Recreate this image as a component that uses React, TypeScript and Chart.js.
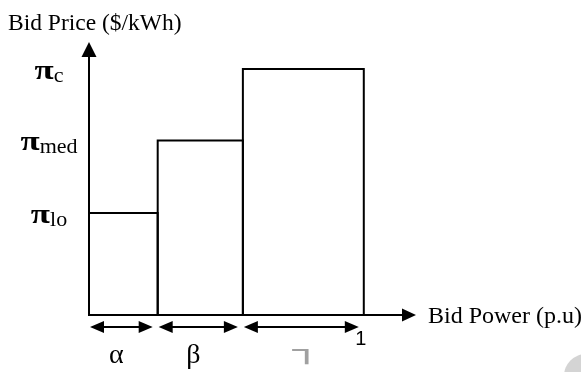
import React, { useEffect, useRef } from "react";
import { Chart, registerables } from "chart.js";

Chart.register(...registerables);

// Step boundaries of the bid curve (p.u. of bid power)
const boundaries = [0, 0.25, 0.56, 1];
// Bid price level of each step (relative to pi_c)
const prices = [0.415, 0.71, 1.0];
// Price level labels (pi + subscript)
const priceSymbol = "π";
const priceSubscripts = ["lo", "med", "c"];
// Symbols under each segment
const segmentSymbols = ["α", "β", "┐"];
const endTickLabel = "1";
const xAxisTitle = "Bid Power (p.u)";
const yAxisTitle = "Bid Price ($/kWh)";
const xMax = 1.19;
const yMax = 1.11;

const SERIF = "'Liberation Serif', 'Times New Roman', serif";

const overlay = {
  id: "overlay",
  afterDatasetsDraw(chart: any) {
    const { ctx, chartArea, scales } = chart;
    const { left, right, top, bottom } = chartArea;
    const xs = scales.x;
    const ys = scales.y;
    ctx.save();
    ctx.strokeStyle = "#000";
    ctx.fillStyle = "#000";
    ctx.lineWidth = 2;
    ctx.lineCap = "butt";

    const tri = (pts: number[][]) => {
      ctx.beginPath();
      ctx.moveTo(pts[0][0], pts[0][1]);
      ctx.lineTo(pts[1][0], pts[1][1]);
      ctx.lineTo(pts[2][0], pts[2][1]);
      ctx.closePath();
      ctx.fill();
    };

    // y axis with arrow
    ctx.beginPath();
    ctx.moveTo(left, bottom + 1);
    ctx.lineTo(left, top + 12);
    ctx.stroke();
    tri([[left, top], [left - 7.5, top + 15], [left + 7.5, top + 15]]);

    // x axis with arrow
    ctx.beginPath();
    ctx.moveTo(left - 1, bottom);
    ctx.lineTo(right - 12, bottom);
    ctx.stroke();
    tri([[right, bottom], [right - 14, bottom - 6.5], [right - 14, bottom + 6.5]]);

    // double arrows under segments
    const ay = bottom + 12;
    for (let i = 0; i < boundaries.length - 1; i++) {
      const x0 = xs.getPixelForValue(boundaries[i]) + 1;
      const x1 = xs.getPixelForValue(boundaries[i + 1]) - 5;
      ctx.beginPath();
      ctx.moveTo(x0 + 10, ay);
      ctx.lineTo(x1 - 10, ay);
      ctx.stroke();
      tri([[x0, ay], [x0 + 14, ay - 6], [x0 + 14, ay + 6]]);
      tri([[x1, ay], [x1 - 14, ay - 6], [x1 - 14, ay + 6]]);
    }

    // segment symbols
    ctx.textBaseline = "alphabetic";
    for (let i = 0; i < segmentSymbols.length; i++) {
      const a = xs.getPixelForValue(boundaries[i]);
      const b = xs.getPixelForValue(boundaries[i + 1]);
      const mid = (a + b) / 2;
      if (i < 2) {
        ctx.textAlign = "center";
        ctx.fillStyle = "#000";
        ctx.font = `28px ${SERIF}`;
        ctx.fillText(segmentSymbols[i], mid - 7, bottom + 48);
      } else {
        ctx.save();
        ctx.textAlign = "left";
        ctx.fillStyle = "#a0a0a0";
        ctx.font = "24px 'DejaVu Sans Mono'";
        ctx.translate(mid - 10.5, bottom + 42.5);
        ctx.scale(1.95, 1);
        ctx.fillText(segmentSymbols[i], 0, 0);
        ctx.restore();
      }
    }

    // end tick "1"
    ctx.textAlign = "center";
    ctx.fillStyle = "#000";
    ctx.font = "20px 'Liberation Sans', Arial, sans-serif";
    ctx.fillText(endTickLabel, xs.getPixelForValue(1) - 3, bottom + 30);

    // price labels
    for (let i = 0; i < prices.length; i++) {
      const py = ys.getPixelForValue(prices[i]);
      const base = py + 10;
      const sxScale = 1.25;
      ctx.font = `bold 28px ${SERIF}`;
      const wMain = ctx.measureText(priceSymbol).width * sxScale;
      ctx.font = `22px ${SERIF}`;
      const wSub = ctx.measureText(priceSubscripts[i]).width;
      const cx = left - 40;
      const sx = cx - (wMain + wSub) / 2;
      ctx.textAlign = "left";
      ctx.save();
      ctx.font = `bold 28px ${SERIF}`;
      ctx.translate(sx, base);
      ctx.scale(sxScale, 1);
      ctx.fillText(priceSymbol, 0, 0);
      ctx.restore();
      ctx.font = `22px ${SERIF}`;
      ctx.fillText(priceSubscripts[i], sx + wMain, base + 3);
    }

    // axis titles
    ctx.textAlign = "left";
    ctx.font = `23.5px ${SERIF}`;
    ctx.fillText(yAxisTitle, left - 81, top - 12);
    ctx.font = `24px ${SERIF}`;
    ctx.fillText(xAxisTitle, right + 12, bottom + 8);

    // grey corner blob
    ctx.fillStyle = "#d4d4d4";
    ctx.beginPath();
    ctx.arc(chart.width + 5, chart.height + 4, 22, 0, Math.PI * 2);
    ctx.fill();

    ctx.restore();
  },
};

export default function App() {
  const ref = useRef<HTMLCanvasElement | null>(null);
  useEffect(() => {
    if (!ref.current) return;
    const datasets = prices.map((p, i) => ({
      data: [
        { x: boundaries[i], y: 0 },
        { x: boundaries[i], y: p },
        { x: boundaries[i + 1], y: p },
        { x: boundaries[i + 1], y: 0 },
      ],
      borderColor: "#000",
      borderWidth: 2,
      pointRadius: 0,
      showLine: true,
      fill: false,
      tension: 0,
      clip: false as any,
      borderJoinStyle: "miter" as const,
    }));
    const chart = new Chart(ref.current, {
      type: "scatter",
      data: { datasets },
      options: {
        responsive: false,
        animation: false,
        devicePixelRatio: 1,
        layout: { padding: { left: 89, right: 165, top: 42, bottom: 57 } },
        plugins: { legend: { display: false }, tooltip: { enabled: false } },
        scales: {
          x: { type: "linear", min: 0, max: xMax, display: false },
          y: { type: "linear", min: 0, max: yMax, display: false },
        },
      },
      plugins: [overlay],
    });
    return () => chart.destroy();
  }, []);
  return (
    <div style={{ position: "fixed", left: 0, top: 0, width: 581, height: 372, background: "#fff" }}>
      <canvas ref={ref} width={581} height={372} style={{ display: "block" }} />
    </div>
  );
}
